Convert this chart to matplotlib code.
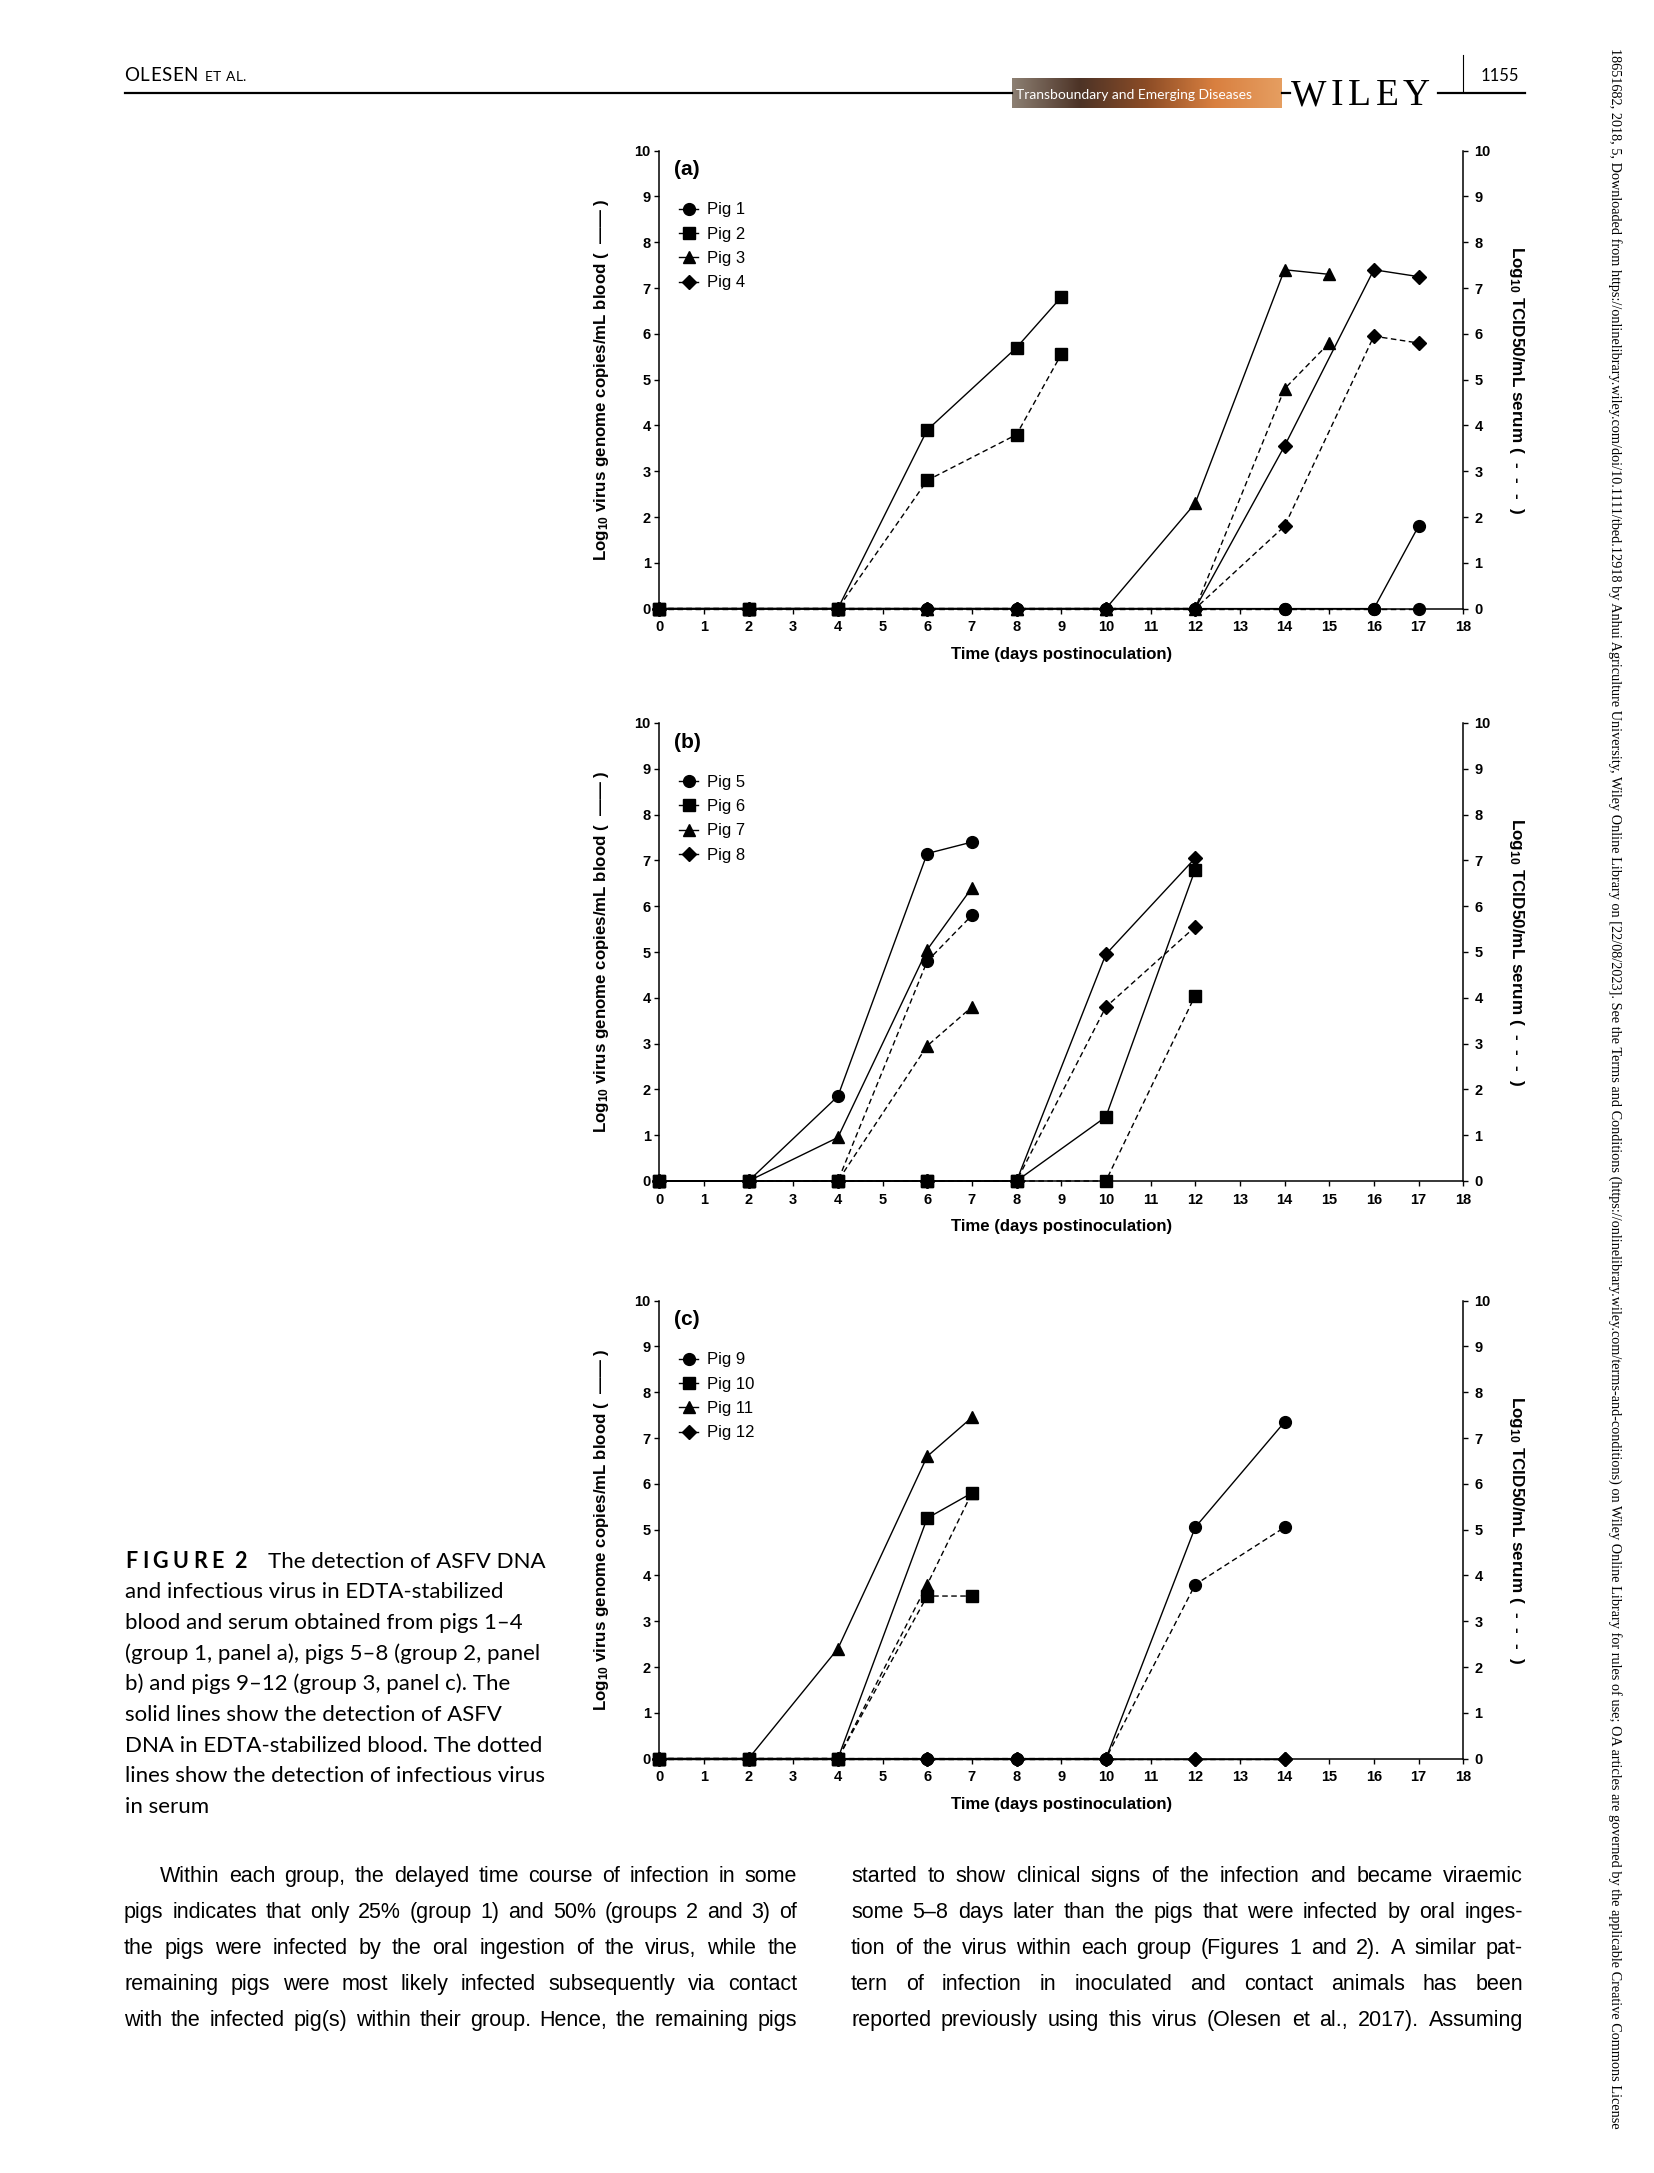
import matplotlib

matplotlib.use("Agg")
import matplotlib.pyplot as plt
import numpy as np
from matplotlib.lines import Line2D

W, H = 1654, 2173

# ── Data (log10 values) ─────────────────────────────────────────────────────

# Panel (a), group 1
PIG1_DAYS = [0, 2, 4, 6, 8, 10, 12, 14, 16, 17]
PIG1_BLOOD = [0, 0, 0, 0, 0, 0, 0, 0, 0, 1.8]
PIG1_SERUM = [0, 0, 0, 0, 0, 0, 0, 0, 0, 0]
PIG2_DAYS = [0, 2, 4, 6, 8, 9]
PIG2_BLOOD = [0, 0, 0, 3.9, 5.7, 6.8]
PIG2_SERUM = [0, 0, 0, 2.8, 3.8, 5.55]
PIG3_DAYS = [0, 2, 4, 6, 8, 10, 12, 14, 15]
PIG3_BLOOD = [0, 0, 0, 0, 0, 0, 2.3, 7.4, 7.3]
PIG3_SERUM = [0, 0, 0, 0, 0, 0, 0, 4.8, 5.8]
PIG4_DAYS = [0, 2, 4, 6, 8, 10, 12, 14, 16, 17]
PIG4_BLOOD = [0, 0, 0, 0, 0, 0, 0, 3.55, 7.4, 7.25]
PIG4_SERUM = [0, 0, 0, 0, 0, 0, 0, 1.8, 5.95, 5.8]

# Panel (b), group 2
PIG5_DAYS = [0, 2, 4, 6, 7]
PIG5_BLOOD = [0, 0, 1.85, 7.15, 7.4]
PIG5_SERUM = [0, 0, 0, 4.8, 5.8]
PIG6_DAYS = [0, 2, 4, 6, 8, 10, 12]
PIG6_BLOOD = [0, 0, 0, 0, 0, 1.4, 6.8]
PIG6_SERUM = [0, 0, 0, 0, 0, 0, 4.05]
PIG7_DAYS = [0, 2, 4, 6, 7]
PIG7_BLOOD = [0, 0, 0.95, 5.05, 6.4]
PIG7_SERUM = [0, 0, 0, 2.95, 3.8]
PIG8_DAYS = [0, 2, 4, 6, 8, 10, 12]
PIG8_BLOOD = [0, 0, 0, 0, 0, 4.95, 7.05]
PIG8_SERUM = [0, 0, 0, 0, 0, 3.8, 5.55]

# Panel (c), group 3
PIG9_DAYS = [0, 2, 4, 6, 8, 10, 12, 14]
PIG9_BLOOD = [0, 0, 0, 0, 0, 0, 5.05, 7.35]
PIG9_SERUM = [0, 0, 0, 0, 0, 0, 3.8, 5.05]
PIG10_DAYS = [0, 2, 4, 6, 7]
PIG10_BLOOD = [0, 0, 0, 5.25, 5.8]
PIG10_SERUM = [0, 0, 0, 3.55, 3.55]
PIG11_DAYS = [0, 2, 4, 6, 7]
PIG11_BLOOD = [0, 0, 2.4, 6.6, 7.45]
PIG11_SERUM = [0, 0, 0, 3.8, 5.8]
PIG12_DAYS = [0, 2, 4, 6, 8, 10, 12, 14]
PIG12_BLOOD = [0, 0, 0, 0, 0, 0, 0, 0]
PIG12_SERUM = [0, 0, 0, 0, 0, 0, 0, 0]

X_TICKS = list(range(0, 19))
Y_TICKS = list(range(0, 11))

CAPTION = [
    "and infectious virus in EDTA-stabilized",
    "blood and serum obtained from pigs 1–4",
    "(group 1, panel a), pigs 5–8 (group 2, panel",
    "b) and pigs 9–12 (group 3, panel c). The",
    "solid lines show the detection of ASFV",
    "DNA in EDTA-stabilized blood. The dotted",
    "lines show the detection of infectious virus",
    "in serum",
]
BODY_LEFT = [
    "Within each group, the delayed time course of infection in some",
    "pigs indicates that only 25% (group 1) and 50% (groups 2 and 3) of",
    "the pigs were infected by the oral ingestion of the virus, while the",
    "remaining pigs were most likely infected subsequently via contact",
    "with the infected pig(s) within their group. Hence, the remaining pigs",
]
BODY_RIGHT = [
    "started to show clinical signs of the infection and became viraemic",
    "some 5–8 days later than the pigs that were infected by oral inges-",
    "tion of the virus within each group (Figures 1 and 2). A similar pat-",
    "tern of infection in inoculated and contact animals has been",
    "reported previously using this virus (Olesen et al., 2017). Assuming",
]
SIDE_NOTE = ("18651682, 2018, 5, Downloaded from https://onlinelibrary.wiley.com/doi/10.1111/"
             "tbed.12918 by Anhui Agriculture University, Wiley Online Library on [22/08/2023]. "
             "See the Terms and Conditions (https://onlinelibrary.wiley.com/terms-and-conditions) "
             "on Wiley Online Library for rules of use; OA articles are governed by the "
             "applicable Creative Commons License")

# ── Style ────────────────────────────────────────────────────────────────────

AX_FONT = "Liberation Sans"
plt.rcParams["mathtext.fontset"] = "custom"
plt.rcParams["mathtext.rm"] = "Liberation Sans:bold"
plt.rcParams["mathtext.default"] = "regular"

X_LEFT, X_RIGHT = 659.2, 1463.2
PANEL_Y = [(150.7, 608.6), (723.0, 1181.0), (1300.7, 1758.6)]


def fx(x):
    return x / W


def fy(y):
    return 1 - y / H


def draw_panel(fig, top, bottom, tag, pigs):
    ax = fig.add_axes([fx(X_LEFT), fy(bottom), (X_RIGHT - X_LEFT) / W, (bottom - top) / H])
    handles = []
    for label, days, blood, serum, marker, ms in pigs:
        ax.plot(days, serum, color="black", lw=1.0, ls=(0, (4, 2.5)), marker=marker,
                ms=ms, clip_on=False, zorder=3)
        ax.plot(days, blood, color="black", lw=1.0, ls="-", marker=marker,
                ms=ms, clip_on=False, zorder=4)
        handles.append(Line2D([], [], color="black", lw=1.0, marker=marker, ms=ms))

    ax.set_xlim(0, 18)
    ax.set_ylim(0, 10)
    ax.set_xticks(X_TICKS)
    ax.set_yticks(Y_TICKS)
    for side in ("top", "right"):
        ax.spines[side].set_visible(False)
    for side in ("left", "bottom"):
        ax.spines[side].set_linewidth(1.1)
    ax.tick_params(axis="x", direction="out", length=3.5, width=1.0, pad=5)
    ax.tick_params(axis="y", direction="out", length=3.5, width=1.0, pad=2.5)
    for lbl in ax.get_xticklabels() + ax.get_yticklabels():
        lbl.set_fontfamily(AX_FONT)
        lbl.set_fontweight("bold")
        lbl.set_fontsize(10.5)

    ax.set_xlabel("Time (days postinoculation)", fontfamily=AX_FONT, fontweight="bold",
                  fontsize=12.1)
    ax.xaxis.set_label_coords(0.5, -0.083)
    ax.set_ylabel(r"Log$_{\mathregular{10}}$ virus genome copies/mL blood (  —— )",
                  fontfamily=AX_FONT, fontweight="bold", fontsize=12.2)
    ax.yaxis.set_label_coords(-0.06, 0.5)

    tw = ax.twinx()
    tw.set_ylim(0, 10)
    tw.set_yticks(Y_TICKS)
    for side in ("top", "left", "bottom"):
        tw.spines[side].set_visible(False)
    tw.spines["right"].set_linewidth(1.1)
    tw.tick_params(axis="y", direction="out", length=3.5, width=1.0, pad=4.5)
    for lbl in tw.get_yticklabels():
        lbl.set_fontfamily(AX_FONT)
        lbl.set_fontweight("bold")
        lbl.set_fontsize(10.5)
    tw.set_ylabel(r"Log$_{\mathregular{10}}$ TCID50/mL serum (  -  -  -  )", rotation=270,
                  fontfamily=AX_FONT, fontweight="bold", fontsize=12.3, va="center")
    tw.yaxis.set_label_coords(1.066, 0.5)

    ax.text(0.019, 0.958, tag, transform=ax.transAxes, ha="left", va="center",
            fontfamily=AX_FONT, fontweight="bold", fontsize=15)
    ax.legend(handles, [p[0] for p in pigs], loc="upper left",
              bbox_to_anchor=(0.025, 0.887), frameon=False, borderpad=0,
              borderaxespad=0, handlelength=1.15, handletextpad=0.5,
              labelspacing=0.56, prop={"family": AX_FONT, "size": 12})


def place_justified(fig, r, line, x0, x1, y, **kw):
    words = line.split()
    texts = [fig.text(fx(x0), fy(y), w, ha="left", va="baseline", **kw) for w in words]
    widths = [t.get_window_extent(r).width for t in texts]
    gap = (x1 - x0 - sum(widths)) / max(len(words) - 1, 1)
    x = x0
    for t, w in zip(texts, widths):
        t.set_x(fx(x))
        x += w + gap


def place_spaced(fig, r, s, x0, y, spacing, space_w, **kw):
    x = x0
    for ch in s:
        if ch == " ":
            x += space_w
            continue
        t = fig.text(fx(x), fy(y), ch, ha="left", va="baseline", **kw)
        x += t.get_window_extent(r).width + spacing
    return x


fig = plt.figure(figsize=(W / 100, H / 100), dpi=100)
fig.patch.set_facecolor("white")
r = fig.canvas.get_renderer()

# ── Charts ───────────────────────────────────────────────────────────────────

PANELS = [
    ("(a)", [("Pig 1", PIG1_DAYS, PIG1_BLOOD, PIG1_SERUM, "o", 8.5),
             ("Pig 2", PIG2_DAYS, PIG2_BLOOD, PIG2_SERUM, "s", 8.5),
             ("Pig 3", PIG3_DAYS, PIG3_BLOOD, PIG3_SERUM, "^", 9),
             ("Pig 4", PIG4_DAYS, PIG4_BLOOD, PIG4_SERUM, "D", 7.5)]),
    ("(b)", [("Pig 5", PIG5_DAYS, PIG5_BLOOD, PIG5_SERUM, "o", 8.5),
             ("Pig 6", PIG6_DAYS, PIG6_BLOOD, PIG6_SERUM, "s", 8.5),
             ("Pig 7", PIG7_DAYS, PIG7_BLOOD, PIG7_SERUM, "^", 9),
             ("Pig 8", PIG8_DAYS, PIG8_BLOOD, PIG8_SERUM, "D", 7.5)]),
    ("(c)", [("Pig 9", PIG9_DAYS, PIG9_BLOOD, PIG9_SERUM, "o", 8.5),
             ("Pig 10", PIG10_DAYS, PIG10_BLOOD, PIG10_SERUM, "s", 8.5),
             ("Pig 11", PIG11_DAYS, PIG11_BLOOD, PIG11_SERUM, "^", 9),
             ("Pig 12", PIG12_DAYS, PIG12_BLOOD, PIG12_SERUM, "D", 7.5)]),
]
for (top, bottom), (tag, pigs) in zip(PANEL_Y, PANELS):
    draw_panel(fig, top, bottom, tag, pigs)

# ── Page header ──────────────────────────────────────────────────────────────

hx = place_spaced(fig, r, "OLESEN", 124, 81, 0.6, 0, fontfamily="Lato", fontsize=13.5)
place_spaced(fig, r, "ET AL.", hx + 6, 81, 0.4, 4, fontfamily="Lato", fontsize=10)
for xa, xb in [(125, 1012), (1282, 1290), (1438, 1525)]:
    fig.add_artist(Line2D([fx(xa), fx(xb)], [fy(93), fy(93)], color="black", lw=1.6))
fig.add_artist(Line2D([fx(1463), fx(1463)], [fy(55), fy(92)], color="black", lw=0.8))
fig.text(fx(1481), fy(81), "1155", fontfamily="Lato", fontsize=12, va="baseline")
place_spaced(fig, r, "WILEY", 1291, 105, 4.5, 0, fontfamily="Liberation Serif", fontsize=27)

bax = fig.add_axes([fx(1012), fy(108), (1282 - 1012) / W, (108 - 78) / H])
grad = np.linspace(0, 1, 256)
stops = np.array([[0.55, 0.50, 0.45], [0.30, 0.20, 0.15], [0.55, 0.30, 0.15],
                  [0.85, 0.50, 0.25], [0.90, 0.62, 0.38]])
pos = np.linspace(0, 1, len(stops))
rgb = np.stack([np.interp(grad, pos, stops[:, k]) for k in range(3)], axis=-1)
bax.imshow(rgb[None, :, :], aspect="auto", extent=(0, 1, 0, 1))
bax.axis("off")
bax.text(0.015, 0.42, "Transboundary and Emerging Diseases", color="white",
         fontfamily="Lato", fontsize=10, ha="left", va="center", transform=bax.transAxes)

# ── Caption ──────────────────────────────────────────────────────────────────

place_spaced(fig, r, "FIGURE 2", 125, 1568, 4.5, 6, fontfamily="Lato",
             fontweight="bold", fontsize=15.5)
fig.text(fx(268), fy(1568), "The detection of ASFV DNA", fontfamily="Lato",
         fontsize=16, va="baseline")
for i, line in enumerate(CAPTION):
    fig.text(fx(125), fy(1598.5 + i * 30.6), line, fontfamily="Lato", fontsize=16,
             va="baseline")

# ── Body text (justified) ────────────────────────────────────────────────────

body_kw = dict(fontfamily=["Liberation Sans Narrow", "Liberation Sans"], fontsize=15.5)
for i, line in enumerate(BODY_LEFT):
    place_justified(fig, r, line, 160 if i == 0 else 124, 797, 1882 + i * 36, **body_kw)
for i, line in enumerate(BODY_RIGHT):
    place_justified(fig, r, line, 851, 1523, 1882 + i * 36, **body_kw)

# ── Side note ────────────────────────────────────────────────────────────────

probe = fig.text(0, 0, SIDE_NOTE, fontfamily="Liberation Serif", fontsize=10)
size = 10 * 2087 / probe.get_window_extent(r).width
probe.remove()
fig.text(fx(1615), fy(48), SIDE_NOTE, fontfamily="Liberation Serif", fontsize=size,
         rotation=270, ha="center", va="top")

fig.savefig("out.png", dpi=100, facecolor="white")
